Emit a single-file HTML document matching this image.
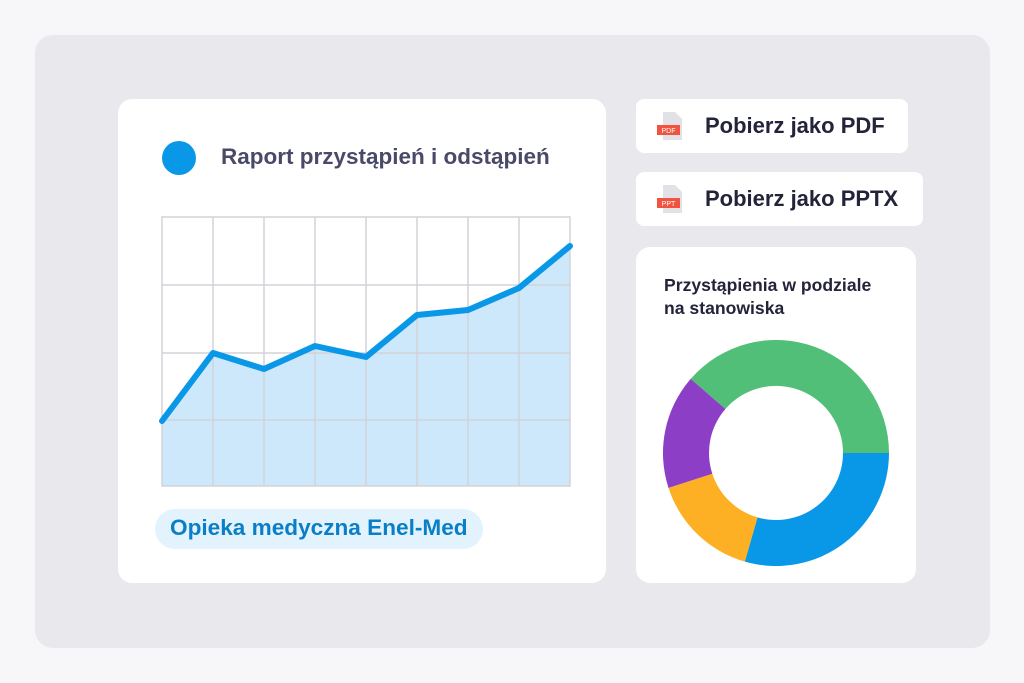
<!DOCTYPE html>
<html><head><meta charset="utf-8"><style>
body{margin:0;width:1024px;height:683px;background:#f7f7fa;position:relative;overflow:hidden;font-family:"Liberation Sans",sans-serif}
.bg{position:absolute;left:35px;top:35px;width:955px;height:613px;background:#e8e8ed;border-radius:18px}
.card{position:absolute;background:#fff;border-radius:14px}
.btn{position:absolute;background:#fff;border-radius:8px;font-weight:bold;font-size:22px;color:#23233a}
.btn span{position:absolute;left:69px;top:14px}
</style></head><body>
<div class="bg"></div>
<div class="card" style="left:118px;top:99px;width:488px;height:484px"></div>
<div style="position:absolute;left:162px;top:141px;width:34px;height:34px;border-radius:50%;background:#0998e8"></div>
<div style="position:absolute;left:221px;top:144px;font-size:22.5px;font-weight:bold;color:#4a4a68">Raport przystąpień i odstąpień</div>
<svg style="position:absolute;left:0;top:0" width="1024" height="683">
<polygon points="162,421 213,353 264,369 315,346 366,357 417,315 468,310 519,288 570,246 570,486 162,486" fill="#cde8fb"/>
<g stroke="#d2d2d8" stroke-width="1.5" fill="none">
<rect x="162" y="217" width="408" height="269"/>
<line x1="213" y1="217" x2="213" y2="486"/><line x1="264" y1="217" x2="264" y2="486"/><line x1="315" y1="217" x2="315" y2="486"/><line x1="366" y1="217" x2="366" y2="486"/><line x1="417" y1="217" x2="417" y2="486"/><line x1="468" y1="217" x2="468" y2="486"/><line x1="519" y1="217" x2="519" y2="486"/>
<line x1="162" y1="285" x2="570" y2="285"/><line x1="162" y1="353" x2="570" y2="353"/><line x1="162" y1="420" x2="570" y2="420"/>
</g>
<polyline points="162,421 213,353 264,369 315,346 366,357 417,315 468,310 519,288 570,246" fill="none" stroke="#0998e8" stroke-width="6" stroke-linecap="round" stroke-linejoin="round"/>
</svg>
<div style="position:absolute;left:155px;top:509px;width:328px;height:40px;border-radius:20px;background:#e2f3fd"></div>
<div style="position:absolute;left:170px;top:515px;font-size:22.6px;font-weight:bold;color:#0a7fc7">Opieka medyczna Enel-Med</div>
<div class="btn" style="left:636px;top:99px;width:272px;height:54px"><span>Pobierz jako PDF</span></div>
<div class="btn" style="left:636px;top:172px;width:287px;height:54px"><span>Pobierz jako PPTX</span></div>
<svg style="position:absolute;left:654px;top:110px" width="34" height="34"><path d="M9 2h12l7 7v21H9z" fill="#e2e2e6"/><rect x="3" y="15" width="23" height="10" fill="#f0533f"/><text x="14.5" y="23" font-size="7" fill="#fff" text-anchor="middle" font-family="Liberation Sans">PDF</text></svg>
<svg style="position:absolute;left:654px;top:183px" width="34" height="34"><path d="M9 2h12l7 7v21H9z" fill="#e2e2e6"/><rect x="3" y="15" width="23" height="10" fill="#f0533f"/><text x="14.5" y="23" font-size="7" fill="#fff" text-anchor="middle" font-family="Liberation Sans">PPT</text></svg>
<div class="card" style="left:636px;top:247px;width:280px;height:336px"></div>
<div style="position:absolute;left:664px;top:274px;font-size:17.6px;font-weight:bold;color:#23233a;line-height:23px">Przystąpienia w podziale<br>na stanowiska</div>
<svg style="position:absolute;left:0;top:0" width="1024" height="683">
<path d="M690.7,378.9 A113,113 0 0 1 889,453 L843,453 A67,67 0 0 0 725.4,409Z" fill="#52bf78"/>
<path d="M889,453 A113,113 0 0 1 744.8,561.6 L757.5,517.4 A67,67 0 0 0 843,453Z" fill="#0998e8"/>
<path d="M744.8,561.6 A113,113 0 0 1 668.5,487.9 L712.3,473.7 A67,67 0 0 0 757.5,517.4Z" fill="#fdb023"/>
<path d="M668.5,487.9 A113,113 0 0 1 690.7,378.9 L725.4,409 A67,67 0 0 0 712.3,473.7Z" fill="#8c3fc6"/>
</svg>
</body></html>
